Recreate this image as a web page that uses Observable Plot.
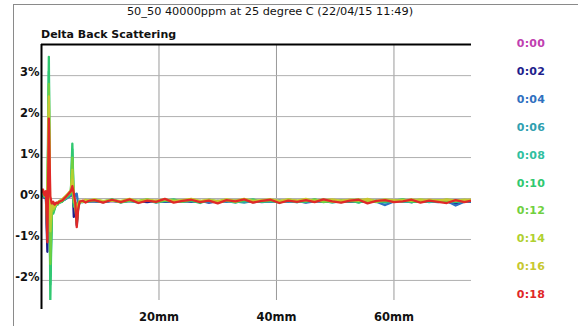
<!DOCTYPE html>
<html>
<head>
<meta charset="utf-8">
<script src="https://cdn.jsdelivr.net/npm/d3@7"></script>
<script src="https://cdn.jsdelivr.net/npm/@observablehq/plot@0.6"></script>
<style>
  html, body { margin: 0; padding: 0; background: #fff; }
  #wrap { position: relative; width: 578px; height: 326px; overflow: hidden; font-family: "DejaVu Sans", sans-serif; }
  #frame { position: absolute; left: 13px; top: 4px; right: -2px; bottom: -2px; border-left: 1.5px solid #8a8a8a; border-top: 1.5px solid #8a8a8a; }
  #title { position: absolute; left: 0; width: 540px; top: 5px; text-align: center; font-size: 11.3px; color: #111; }
  #sub { position: absolute; left: 41px; top: 28px; font-size: 11px; font-weight: bold; color: #111; }
  #legend { position: absolute; left: 500px; top: 0; width: 62px; }
  #legend div { position: absolute; width: 62px; text-align: center; font-size: 11px; font-weight: bold; letter-spacing: 0.3px; }
  #chart { position: absolute; left: 0; top: 0; }
  #chart svg text { font-weight: bold; }
</style>
</head>
<body>
<div id="wrap">
  <div id="frame"></div>
  <div id="chart"></div>
  <div id="title"></div>
  <div id="sub"></div>
  <div id="legend"></div>
</div>
<script>
const titleText = "50_50 40000ppm at 25 degree C (22/04/15 11:49)";
const yTitle = "Delta Back Scattering";
const times = ["0:00","0:02","0:04","0:06","0:08","0:10","0:12","0:14","0:16","0:18"];
const colors = ["#c040b0","#1e1e8c","#3070c0","#30a0b0","#30c0a0","#30c870","#70d040","#b0d030","#c8c830","#e02828"];
const xTicks = [20, 40, 60];
const yTicks = [-2, -1, 0, 1, 2, 3];

// position along the sample (mm)
const mm = [0,0.25,0.5,0.75,1,1.25,1.5,1.75,2,2.25,2.5,2.75,3,3.5,4,4.5,5,5.25,5.5,5.75,6,6.25,6.5,7,7.5,8,
  9,10.5,12,13.5,15,16.5,18,19.5,21,22.5,24,25.5,27,28.5,30,31.5,33,34.5,36,37.5,39,40.5,42,43.5,
  45,46.5,48,49.5,51,52.5,54,55.5,57,58.5,60,61.5,63,64.5,66,67.5,69,70.5,72,73];

// delta back scattering (%) per scan time
const s0000 = [0.04,0.08,0.02,0.04,-0.50,0.50,-0.60,-0.12,-0.15,-0.14,
  -0.11,-0.10,-0.08,-0.05,-0.02,0.02,0.06,0.20,-0.20,-0.10,
  -0.30,-0.15,-0.07,-0.07,-0.06,-0.07,
  -0.06,-0.07,-0.06,-0.08,-0.06,-0.07,-0.06,-0.07,-0.08,-0.06,
  -0.07,-0.06,-0.08,-0.07,-0.06,-0.07,-0.06,-0.08,-0.07,-0.06,
  -0.07,-0.06,-0.07,-0.08,-0.06,-0.07,-0.06,-0.07,-0.08,-0.06,
  -0.06,-0.07,-0.08,-0.06,-0.07,-0.06,-0.07,-0.08,-0.06,-0.07,
  -0.06,-0.07,-0.06,-0.07];
const s0002 = [0.05,0.10,0.02,0.05,-1.30,1.44,-1.30,-0.15,-0.20,-0.16,
  -0.12,-0.11,-0.08,-0.05,-0.01,0.04,0.10,0.49,-0.45,-0.10,
  -0.65,-0.20,-0.07,-0.08,-0.06,-0.07,
  -0.07,-0.09,-0.06,-0.08,-0.05,-0.07,-0.09,-0.06,-0.08,-0.07,
  -0.05,-0.08,-0.06,-0.10,-0.07,-0.05,-0.08,-0.06,-0.09,-0.07,
  -0.06,-0.08,-0.05,-0.07,-0.09,-0.06,-0.08,-0.07,-0.05,-0.08,
  -0.07,-0.09,-0.06,-0.08,-0.05,-0.07,-0.09,-0.06,-0.08,-0.06,
  -0.07,-0.13,-0.06,-0.08];
const s0004 = [0.06,0.11,0.03,0.06,-1.00,0.90,-1.50,-0.18,-0.24,-0.18,
  -0.13,-0.12,-0.09,-0.06,-0.02,0.03,0.08,0.40,-0.05,0.10,
  0.12,-0.15,-0.08,-0.08,-0.06,-0.07,
  -0.06,-0.08,-0.05,-0.07,-0.06,-0.09,-0.05,-0.08,-0.07,-0.06,
  -0.08,-0.05,-0.07,-0.09,-0.06,-0.08,-0.05,-0.07,-0.06,-0.09,
  -0.07,-0.05,-0.08,-0.06,-0.10,-0.07,-0.05,-0.08,-0.06,-0.07,
  -0.09,-0.06,-0.08,-0.16,-0.07,-0.05,-0.08,-0.06,-0.07,-0.09,
  -0.06,-0.17,-0.08,-0.07];
const s0006 = [0.08,0.13,0.04,0.08,-0.90,1.20,-1.90,-0.20,-0.28,-0.20,
  -0.14,-0.13,-0.10,-0.07,-0.02,0.04,0.10,0.60,-0.10,-0.14,
  -0.55,-0.20,-0.08,-0.09,-0.06,-0.07,
  -0.06,-0.08,-0.05,-0.09,-0.06,-0.07,-0.04,-0.10,-0.06,-0.08,
  -0.05,-0.07,-0.09,-0.06,-0.08,-0.05,-0.07,-0.10,-0.06,-0.07,
  -0.08,-0.05,-0.07,-0.09,-0.06,-0.08,-0.04,-0.07,-0.09,-0.06,
  -0.05,-0.08,-0.06,-0.10,-0.07,-0.05,-0.09,-0.06,-0.08,-0.07,
  -0.06,-0.09,-0.05,-0.07];
const s0008 = [0.10,0.15,0.05,0.10,-0.80,3.10,-2.10,-0.28,-0.33,-0.24,
  -0.15,-0.14,-0.10,-0.07,0.00,0.06,0.12,1.20,-0.15,-0.15,
  -0.60,-0.22,-0.08,-0.09,-0.05,-0.07,
  -0.05,-0.09,-0.04,-0.07,-0.06,-0.10,-0.03,-0.08,-0.05,-0.07,
  -0.06,-0.04,-0.09,-0.05,-0.08,-0.06,-0.10,-0.04,-0.07,-0.06,
  -0.05,-0.08,-0.06,-0.09,-0.04,-0.07,-0.05,-0.10,-0.06,-0.05,
  -0.07,-0.05,-0.09,-0.06,-0.04,-0.08,-0.07,-0.05,-0.09,-0.06,
  -0.05,-0.08,-0.07,-0.06];
const s0010 = [0.12,0.18,0.05,0.10,0.02,3.46,-2.49,-0.20,-0.37,-0.25,
  -0.12,-0.15,-0.10,-0.08,0.00,0.05,0.12,1.34,-0.20,-0.15,
  -0.30,-0.10,-0.06,-0.08,-0.04,-0.07,
  -0.05,-0.08,-0.02,-0.10,-0.04,-0.07,-0.03,-0.09,-0.06,-0.02,
  -0.08,-0.05,-0.11,-0.03,-0.07,-0.04,-0.09,-0.06,-0.02,-0.08,
  -0.05,-0.10,-0.03,-0.06,-0.08,-0.02,-0.09,-0.05,-0.07,-0.04,
  -0.10,-0.03,-0.06,-0.08,-0.05,-0.02,-0.09,-0.06,-0.04,-0.07,
  -0.03,-0.08,-0.05,-0.06];
const s0012 = [0.12,0.17,0.06,0.12,-0.60,2.80,-1.60,-0.25,-0.30,-0.22,
  -0.14,-0.13,-0.09,-0.06,0.01,0.08,0.15,1.00,-0.10,-0.14,
  -0.55,-0.20,-0.07,-0.08,-0.05,-0.06,
  -0.04,-0.07,-0.03,-0.08,-0.05,-0.06,-0.02,-0.09,-0.04,-0.06,
  -0.07,-0.03,-0.08,-0.04,-0.09,-0.05,-0.06,-0.03,-0.08,-0.05,
  -0.04,-0.09,-0.04,-0.07,-0.06,-0.03,-0.08,-0.06,-0.05,-0.07,
  -0.06,-0.04,-0.08,-0.05,-0.07,-0.03,-0.06,-0.08,-0.04,-0.05,
  -0.07,-0.04,-0.06,-0.05];
const s0014 = [0.13,0.19,0.08,0.14,-0.40,2.30,-0.80,-0.18,-0.25,-0.20,
  -0.12,-0.12,-0.08,-0.04,0.03,0.10,0.18,0.70,0.00,-0.13,
  -0.50,-0.18,-0.06,-0.08,-0.04,-0.06,
  -0.03,-0.06,-0.05,-0.08,-0.02,-0.06,-0.04,-0.07,-0.03,-0.05,
  -0.05,-0.02,-0.07,-0.04,-0.06,-0.03,-0.08,-0.02,-0.05,-0.05,
  -0.03,-0.07,-0.02,-0.06,-0.04,-0.05,-0.03,-0.08,-0.05,-0.04,
  -0.02,-0.06,-0.05,-0.03,-0.07,-0.04,-0.06,-0.02,-0.05,-0.04,
  -0.04,-0.06,-0.03,-0.05];
const s0016 = [0.14,0.20,0.10,0.16,0.00,2.49,-0.50,-0.15,-0.20,-0.18,
  -0.12,-0.10,-0.06,-0.02,0.05,0.12,0.20,0.45,0.05,-0.12,
  -0.40,-0.15,-0.05,-0.07,-0.03,-0.05,
  -0.02,-0.07,-0.04,-0.06,-0.01,-0.08,-0.03,-0.05,-0.02,-0.07,
  -0.04,-0.01,-0.06,-0.03,-0.08,-0.02,-0.05,-0.01,-0.07,-0.04,
  -0.02,-0.06,-0.03,-0.05,-0.01,-0.07,-0.04,-0.02,-0.06,-0.03,
  -0.05,-0.01,-0.07,-0.03,-0.04,-0.06,-0.02,-0.05,-0.03,-0.06,
  -0.02,-0.05,-0.04,-0.03];
const s0018 = [0.15,0.22,0.08,0.18,-1.07,1.95,0.05,-0.12,-0.08,-0.15,
  -0.10,-0.12,-0.08,-0.05,0.02,0.10,0.18,0.30,0.12,-0.10,
  -0.70,-0.25,-0.08,-0.05,-0.10,-0.06,
  -0.04,-0.10,-0.03,-0.09,-0.02,-0.11,-0.05,-0.08,-0.01,-0.10,
  -0.06,-0.03,-0.09,-0.05,-0.12,-0.04,-0.07,-0.02,-0.10,-0.06,
  -0.03,-0.11,-0.05,-0.08,-0.04,-0.09,-0.02,-0.07,-0.10,-0.05,
  -0.03,-0.12,-0.06,-0.04,-0.09,-0.07,-0.03,-0.10,-0.05,-0.08,
  -0.11,-0.04,-0.09,-0.06];

const seriesValues = [s0000,s0002,s0004,s0006,s0008,s0010,s0012,s0014,s0016,s0018];

const rows = [];
seriesValues.forEach((vals, i) => {
  const n = Math.min(vals.length, mm.length);
  for (let j = 0; j < n; j++) rows.push({mm: mm[j], v: vals[j], t: times[i]});
});

const yTop = 3.76, yBottom = -2.49, xMax = 73.2;

const chart = Plot.plot({
  width: 578,
  height: 326,
  marginLeft: 41,
  marginTop: 44,
  marginRight: 107,
  marginBottom: 26,
  style: {fontFamily: "DejaVu Sans, sans-serif", fontSize: "11.5px", color: "#111", background: "transparent", overflow: "visible"},
  x: {domain: [0, xMax], label: null},
  y: {domain: [yBottom, yTop], label: null},
  color: {domain: times, range: colors},
  marks: [
    Plot.gridX(xTicks, {stroke: "#9a9a9a", strokeOpacity: 1, strokeWidth: 1}),
    Plot.gridY(yTicks, {stroke: "#b0b0b0", strokeOpacity: 1, strokeWidth: 1}),
    ...times.map(t => Plot.line(rows.filter(d => d.t === t), {x: "mm", y: "v", stroke: "t", strokeWidth: 2.3, clip: true})),
    Plot.ruleX([0], {y1: yBottom - 0.22, y2: yTop, stroke: "#000", strokeWidth: 2}),
    Plot.ruleY([yTop], {x1: 0, x2: xMax, stroke: "#000", strokeWidth: 2}),
    Plot.axisX(xTicks, {tickSize: 0, tickPadding: 12, tickFormat: d => d + "mm", label: null, fill: "#111"}),
    Plot.axisY(yTicks, {tickSize: 0, tickPadding: 2, dy: -3, tickFormat: d => d + "%", label: null, fill: "#111"})
  ]
});
document.getElementById("chart").appendChild(chart);

document.getElementById("title").textContent = titleText;
document.getElementById("sub").textContent = yTitle;
const legend = document.getElementById("legend");
times.forEach((t, i) => {
  const el = document.createElement("div");
  el.textContent = t;
  el.style.color = colors[i];
  el.style.top = (37 + i * 27.9) + "px";
  legend.appendChild(el);
});
</script>
</body>
</html>
